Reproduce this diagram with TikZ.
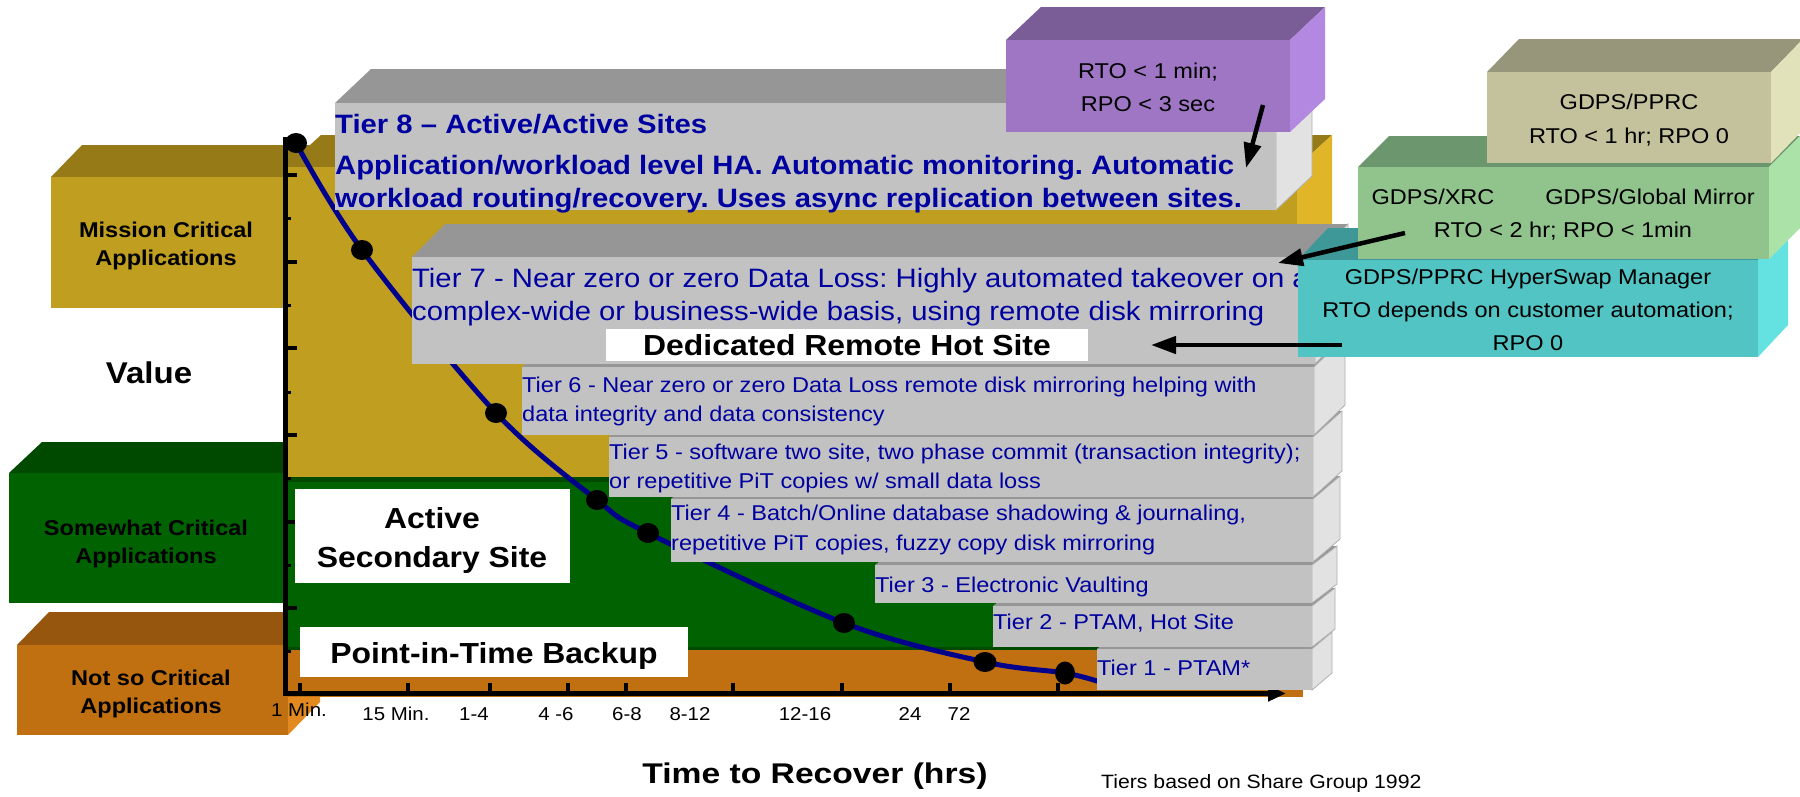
\documentclass[tikz,border=0pt]{standalone}
\usepackage{fontspec}
\setmainfont{Liberation Sans}[FakeStretch=1.1]
\newfontfamily\wideF{Liberation Sans}[FakeStretch=1.18]
\usetikzlibrary{arrows.meta,shapes.geometric}
\definecolor{goldF}{RGB}{192,158,32}
\definecolor{goldT}{RGB}{150,122,24}
\definecolor{goldS}{RGB}{224,182,40}
\definecolor{grnF}{RGB}{0,98,0}
\definecolor{grnT}{RGB}{0,74,0}
\definecolor{orF}{RGB}{192,112,16}
\definecolor{orT}{RGB}{150,86,14}
\definecolor{orS}{RGB}{226,138,32}
\definecolor{grayF}{RGB}{194,194,194}
\definecolor{grayT}{RGB}{150,150,150}
\definecolor{grayS}{RGB}{226,226,226}
\definecolor{grayE}{RGB}{176,176,176}
\definecolor{purF}{RGB}{158,118,196}
\definecolor{purT}{RGB}{122,92,150}
\definecolor{purS}{RGB}{178,136,224}
\definecolor{tanF}{RGB}{196,194,156}
\definecolor{tanT}{RGB}{152,150,122}
\definecolor{tanS}{RGB}{226,226,186}
\definecolor{lgF}{RGB}{144,196,140}
\definecolor{lgT}{RGB}{108,150,110}
\definecolor{lgS}{RGB}{170,226,168}
\definecolor{cyF}{RGB}{82,196,196}
\definecolor{cyT}{RGB}{62,152,152}
\definecolor{cyS}{RGB}{100,226,226}
\definecolor{tierblue}{RGB}{0,0,160}
\definecolor{curveblue}{RGB}{0,0,140}
% x1 y1 x2 y2 dx dy front top side
\newcommand{\cuboid}[9]{%
  \fill[#8] (#1,#2) -- (#1+#5,#2-#6) -- (#3+#5,#2-#6) -- (#3,#2) -- cycle;
  \fill[#9] (#3,#2) -- (#3+#5,#2-#6) -- (#3+#5,#4-#6) -- (#3,#4) -- cycle;
  \fill[#7] (#1,#2) rectangle (#3,#4);
}
\newcommand{\tierbox}[6]{%
  \fill[grayT] (#1,#2) -- (#1+#5,#2-#6) -- (#3+#5,#2-#6) -- (#3,#2) -- cycle;
  \filldraw[fill=grayS, draw=grayE, line width=0.8pt] (#3,#2) -- (#3+#5,#2-#6) -- (#3+#5,#4-#6) -- (#3,#4) -- cycle;
  \fill[grayF] (#1,#2) rectangle (#3,#4);
}
\begin{document}
\frenchspacing
\begin{tikzpicture}[x=1pt,y=-1pt,
  dot/.style={ellipse, fill=black, inner sep=0pt, minimum width=22pt, minimum height=20pt},
  lab/.style={inner sep=0pt, anchor=base, font=\bfseries\fontsize{21.4}{25}\selectfont},
  big/.style={inner sep=0pt, anchor=base, font=\bfseries\fontsize{29}{34}\selectfont},
  tierb/.style={inner sep=0pt, anchor=base west, text=tierblue, font=\bfseries\fontsize{26.6}{31}\selectfont},
  tierl/.style={inner sep=0pt, anchor=base west, text=tierblue, font=\fontsize{26.6}{31}\selectfont},
  tiers/.style={inner sep=0pt, anchor=base west, text=tierblue, font=\fontsize{21.4}{25}\selectfont},
  call/.style={inner sep=0pt, anchor=base, font=\fontsize{21.4}{25}\selectfont},
  ticklab/.style={inner sep=0pt, anchor=base, font=\fontsize{18.6}{22}\selectfont},
  arr/.style={line width=4.5pt, -{Triangle[length=25pt,width=17pt]}},
]
\useasboundingbox (0,0) rectangle (1800,796);
\clip (0,0) rectangle (1800,796);
\fill[white] (0,0) rectangle (1800,796);

% left category boxes
\cuboid{51}{177}{286}{308}{31}{32}{goldF}{goldT}{goldS}
\cuboid{9}{473}{286}{603}{33}{31}{grnF}{grnT}{grnF}
\cuboid{17}{645}{288}{735}{32}{33}{orF}{orT}{orS}

% chart bands
\cuboid{286}{167}{1297}{477}{35}{32}{goldF}{goldT}{goldS}
\fill[grnF] (286,477) rectangle (1297,650);
\fill[grnT] (286,477) rectangle (1297,482);
\fill[orF] (286,650) rectangle (1303,697);
\fill[grnT] (286,647) rectangle (1297,650);

% axes
\coordinate (ytop) at (285.5,137);
\coordinate (ybot) at (285.5,696);
\coordinate (xbeg) at (283,693.5);
\coordinate (xend) at (1286,693.5);
\draw[line width=5pt] (ytop) -- (ybot);
\draw[line width=5pt, -{Triangle[length=18pt,width=15pt]}] (xbeg) -- (xend);
\foreach \y in {175,262,348,435,522,608} \draw[line width=4pt] (287,\y) -- (297,\y);
\foreach \y in {218,305,392,478,565,651} \draw[line width=3pt] (287,\y) -- (291,\y);
\foreach \x in {300,408,490,568,626,733,842,950,1058} \draw[line width=4pt] (\x,683) -- (\x,692);

% curve and points
\coordinate (p1) at (296,143);
\coordinate (p2) at (362,250);
\coordinate (p3) at (496,413);
\coordinate (p4) at (597,500);
\coordinate (p5) at (648,533);
\coordinate (p6) at (844,623);
\coordinate (p7) at (985,662);
\coordinate (p8) at (1065,673);
\coordinate (pend) at (1100,682);
\draw[curveblue, line width=5pt] plot[smooth, tension=0.55] coordinates {(p1) (p2) (p3) (p4) (p5) (p6) (p7) (p8) (pend)};
\node[dot] (d1) at (p1) {};
\node[dot] (d2) at (p2) {};
\node[dot] (d3) at (p3) {};
\node[dot] (d4) at (p4) {};
\node[dot] (d5) at (p5) {};
\node[dot] (d6) at (p6) {};
\node[dot, minimum width=23pt] (d7) at (p7) {};
\node[dot, minimum width=20pt, minimum height=23pt] (d8) at (p8) {};

% tiers, bottom first
\tierbox{1097}{649}{1312}{690}{20}{17}
\tierbox{993}{606}{1312}{647}{23}{18}
\tierbox{875}{565}{1312}{603}{25}{19}
\tierbox{671}{499}{1313}{562}{27}{23}
\tierbox{609}{437}{1313}{497}{29}{26}
\tierbox{522}{367}{1314}{435}{31}{30}
\tierbox{412}{257}{1315}{364}{33}{33}
\tierbox{335}{103}{1276}{210}{36}{34}

% tier texts
\node[tierb] (t8a) at (335,133) {Tier 8 – Active/Active Sites};
\node[tierb] (t8b) at (335,174) {Application/workload level HA. Automatic monitoring. Automatic};
\node[tierb] (t8c) at (335,207) {workload routing/recovery. Uses async replication between sites.};
\node[tierl] (t7a) at (412,287) {Tier 7 - Near zero or zero Data Loss: Highly automated takeover on a};
\node[tierl] (t7b) at (412,320) {complex-wide or business-wide basis, using remote disk mirroring};
\node[tiers] (t6a) at (522,392) {Tier 6 - Near zero or zero Data Loss remote disk mirroring helping with};
\node[tiers] (t6b) at (522,421) {data integrity and data consistency};
\node[tiers] (t5a) at (609,459) {Tier 5 - software two site, two phase commit (transaction integrity);};
\node[tiers] (t5b) at (609,488) {or repetitive PiT copies w/ small data loss};
\node[tiers] (t4a) at (671,520) {Tier 4 - Batch/Online database shadowing \& journaling,};
\node[tiers] (t4b) at (671,550) {repetitive PiT copies, fuzzy copy disk mirroring};
\node[tiers] (t3) at (875,592) {Tier 3 - Electronic Vaulting};
\node[tiers] (t2) at (993,629) {Tier 2 - PTAM, Hot Site};
\node[tiers] (t1) at (1097,675) {Tier 1 - PTAM*};

% white labels
\fill[white] (295,489) rectangle (570,583);
\fill[white] (300,627) rectangle (688,677);
\fill[white] (606,329) rectangle (1088,361);
\node[big] (act1) at (432,528) {Active};
\node[big] (act2) at (432,567) {Secondary Site};
\node[big] (pit) at (494,663) {Point-in-Time Backup};
\node[big] (drh) at (847,355) {Dedicated Remote Hot Site};

% left labels
\node[lab] (mc1) at (166,237) {Mission Critical};
\node[lab] (mc2) at (166,265) {Applications};
\node[big, font=\bfseries\fontsize{30}{35}\selectfont] (val) at (149,383) {Value};
\node[lab] (sc1) at (146,535) {Somewhat Critical};
\node[lab] (sc2) at (146,563) {Applications};
\node[lab] (ns1) at (151,685) {Not so Critical};
\node[lab] (ns2) at (151,713) {Applications};

% axis labels
\node[ticklab] (x1) at (299,716) {1 Min.};
\node[ticklab] (x2) at (396,720) {15 Min.};
\node[ticklab] (x3) at (474,720) {1-4};
\node[ticklab] (x4) at (556,720) {4 -6};
\node[ticklab] (x5) at (627,720) {6-8};
\node[ticklab] (x6) at (690,720) {8-12};
\node[ticklab] (x7) at (805,720) {12-16};
\node[ticklab] (x8) at (910,720) {24};
\node[ticklab] (x9) at (959,720) {72};
\node[inner sep=0pt, anchor=base, font=\wideF\bfseries\fontsize{28.5}{34}\selectfont] (xt) at (815,783) {Time to Recover (hrs)};
\node[inner sep=0pt, anchor=base west, font=\fontsize{19.3}{23}\selectfont] (src) at (1101,788) {Tiers based on Share Group 1992};

% callouts
\cuboid{1006}{40}{1290}{132}{35}{33}{purF}{purT}{purS}
\node[call] (pu1) at (1148,78) {RTO < 1 min;};
\node[call] (pu2) at (1148,111) {RPO < 3 sec};

\cuboid{1298}{260}{1758}{357}{30}{32}{cyF}{cyT}{cyS}
\node[call] (cy1) at (1528,284) {GDPS/PPRC HyperSwap Manager};
\node[call] (cy2) at (1528,317) {RTO depends on customer automation;};
\node[call] (cy3) at (1528,350) {RPO 0};

\cuboid{1358}{167}{1769}{259}{31}{31}{lgF}{lgT}{lgS}
\node[call] (gr1) at (1433,204) {GDPS/XRC};
\node[call] (gr2) at (1650,204) {GDPS/Global Mirror};
\node[call] (gr3) at (1563,237) {RTO < 2 hr; RPO < 1min};

\cuboid{1487}{72}{1771}{163}{32}{33}{tanF}{tanT}{tanS}
\node[call] (tn1) at (1629,109) {GDPS/PPRC};
\node[call] (tn2) at (1629,143) {RTO < 1 hr; RPO 0};

% arrows
\coordinate (a1s) at (1263,105);
\coordinate (a1e) at (1246,168);
\coordinate (a2s) at (1405,233);
\coordinate (a2e) at (1278,263);
\coordinate (a3s) at (1342,345);
\coordinate (a3e) at (1151,345);
\draw[arr] (a1s) -- (a1e);
\draw[arr] (a2s) -- (a2e);
\draw[arr] (a3s) -- (a3e);
\end{tikzpicture}
\end{document}
